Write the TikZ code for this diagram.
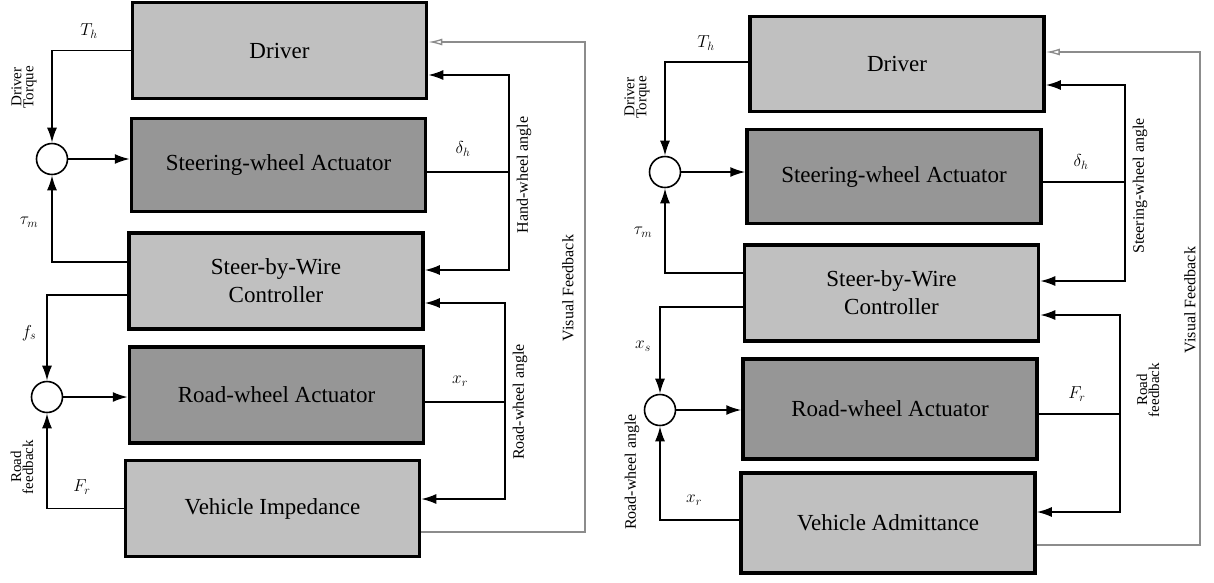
\documentclass[tikz,border=0pt]{standalone}
\usepackage{fontspec}
\setmainfont{Liberation Serif}
\newfontfamily\boxfont{Liberation Serif}
\usetikzlibrary{arrows.meta}
\definecolor{boxlight}{RGB}{192,192,192}
\definecolor{boxdark}{RGB}{150,150,150}
\definecolor{vfgray}{RGB}{140,140,140}
\begin{document}
\begin{tikzpicture}[x=1pt,y=-1pt,
  blk/.style={draw, line width=3.5pt, minimum width=294pt, font=\boxfont\fontsize{23}{28}\selectfont, align=center, inner sep=0pt},
  lt/.style={blk, fill=boxlight},
  dk/.style={blk, fill=boxdark},
  sumpt/.style={circle, draw, line width=1.6pt, fill=white, minimum size=31pt, inner sep=0pt},
  conn/.style={line width=1.8pt},
  arr/.style={conn, -{Latex[length=15pt,width=10pt]}},
  vf/.style={draw=vfgray, line width=1.3pt, -{Latex[open,length=14pt,width=7pt]}},
  lbl/.style={font=\rmfamily\fontsize{17}{19}\selectfont, inner sep=0pt},
  rlbl/.style={font=\boxfont\fontsize{16}{18}\selectfont, inner sep=0pt, rotate=90, align=center},
  small/.style={font=\boxfont\fontsize{15}{12}\selectfont, rotate=90, align=center, inner sep=0pt},
]
\useasboundingbox (0,0) rectangle (1214,582);

% ---------- left diagram ----------
\node[lt, minimum height=96pt] (drvL) at (279.5,50.5) {Driver};
\node[dk, minimum height=93pt] (swaL) at (278.5,165) {Steering-wheel Actuator};
\node[lt, minimum height=96pt] (sbwL) at (276,281) {Steer-by-Wire\\Controller};
\node[dk, minimum height=96pt] (rwaL) at (276.5,395) {Road-wheel Actuator};
\node[lt, minimum height=96pt] (vehL) at (272.5,508.5) {Vehicle Impedance};

\node[sumpt] (sL1) at (52,159) {};
\node[sumpt] (sL2) at (47,397) {};

\draw[arr] (drvL.west) -| (sL1.north);
\draw[arr] (sL1.east) -- (sL1.east -| swaL.west);
\draw[arr] ([yshift=19pt]sbwL.west) -| (sL1.south);
\draw[arr] ([yshift=-14pt]sbwL.west) -| (sL2.north);
\draw[arr] (sL2.east) -- (sL2.east -| rwaL.west);
\draw[arr] (vehL.west) -| (sL2.south);

\coordinate (jL1) at (509,172);
\draw[conn] (jL1 -| swaL.east) -- (jL1);
\draw[arr] (jL1) |- ([yshift=-24.5pt]drvL.east);
\draw[arr] (jL1) |- ([yshift=11pt]sbwL.east);

\coordinate (jL2) at (505,402);
\draw[conn] (jL2 -| rwaL.east) -- (jL2);
\draw[arr] (jL2) |- ([yshift=-22pt]sbwL.east);
\draw[arr] (jL2) |- ([yshift=9.5pt]vehL.east);

\coordinate (vL) at (585,300);
\draw[vf] ([yshift=-23.5pt]vehL.east) -| (vL) |- ([yshift=8.5pt]drvL.east);

\node[lbl] (thL) at (89,31) {$T_h$};
\node[small] (dtL) at (24,87) {Driver\\Torque};
\node[lbl] (tmL) at (29,222) {$\tau_m$};
\node[lbl] (fsL) at (29,333) {$f_s$};
\node[lbl] (frL) at (82,487) {$F_r$};
\node[small] (rfL) at (22,467) {Road\\feedback};
\node[lbl] (dhL) at (463,149) {$\delta_h$};
\node[rlbl] (hwL) at (524,175) {Hand-wheel angle};
\node[lbl] (xrL) at (460,381) {$x_r$};
\node[rlbl] (rwL) at (520,402) {Road-wheel angle};
\node[rlbl] (vfL) at (568,288) {Visual Feedback};

% ---------- right diagram ----------
\node[lt, minimum height=95pt] (drvR) at (897,64) {Driver};
\node[dk, minimum height=94pt] (swaR) at (894,176.5) {Steering-wheel Actuator};
\node[lt, minimum height=96pt] (sbwR) at (891.5,293) {Steer-by-Wire\\Controller};
\node[dk, minimum height=100pt] (rwaR) at (890,409) {Road-wheel Actuator};
\node[lt, minimum height=100pt] (vehR) at (888,523) {Vehicle Admittance};

\node[sumpt] (sR1) at (665,172) {};
\node[sumpt] (sR2) at (660,410) {};

\draw[arr] ([yshift=2pt]drvR.west) -| (sR1.north);
\draw[arr] (sR1.east) -- (sR1.east -| swaR.west);
\draw[arr] ([yshift=20pt]sbwR.west) -| (sR1.south);
\draw[arr] ([yshift=-14pt]sbwR.west) -| (sR2.north);
\draw[arr] (sR2.east) -- (sR2.east -| rwaR.west);
\draw[arr] ([yshift=3pt]vehR.west) -| (sR2.south);

\coordinate (jR1) at (1125,182);
\draw[conn] (jR1 -| swaR.east) -- (jR1);
\draw[arr] (jR1) |- ([yshift=-21pt]drvR.east);
\draw[arr] (jR1) |- ([yshift=12pt]sbwR.east);

\coordinate (jR2) at (1120,414);
\draw[conn] (jR2 -| rwaR.east) -- (jR2);
\draw[arr] (jR2) |- ([yshift=-22pt]sbwR.east);
\draw[arr] (jR2) |- ([yshift=11pt]vehR.east);

\coordinate (vR) at (1200,300);
\draw[vf] ([yshift=-22pt]vehR.east) -| (vR) |- ([yshift=12pt]drvR.east);

\node[lbl] (thR) at (706,43) {$T_h$};
\node[small] (dtR) at (637,97) {Driver\\Torque};
\node[lbl] (tmR) at (643,232) {$\tau_m$};
\node[lbl] (xsR) at (643,346) {$x_s$};
\node[lbl] (xrR) at (694,500) {$x_r$};
\node[rlbl] (rwR) at (632,472) {Road-wheel angle};
\node[lbl] (dhR) at (1081,162) {$\delta_h$};
\node[rlbl] (swR) at (1140,186) {Steering-wheel angle};
\node[lbl] (frR) at (1077,394) {$F_r$};
\node[small] (rfR) at (1148,390) {Road\\feedback};
\node[rlbl] (vfR) at (1190,300) {Visual Feedback};
\end{tikzpicture}
\end{document}
